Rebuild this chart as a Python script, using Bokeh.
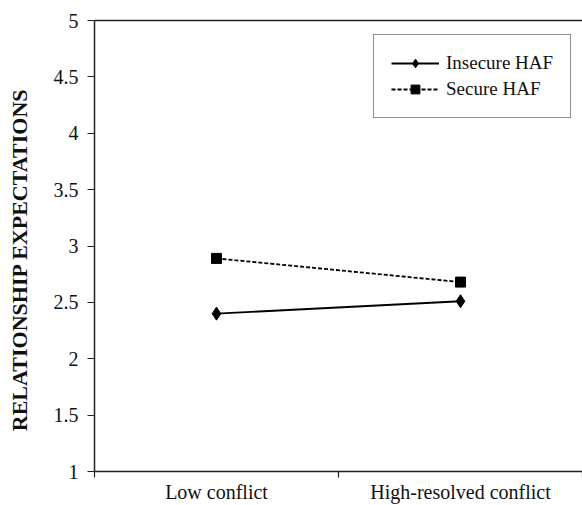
from bokeh.plotting import figure
from bokeh.models import (FactorRange, Range1d, LinearAxis, FixedTicker, Legend)
from bokeh.embed import file_html
from bokeh.resources import INLINE

categories = ["Low conflict", "High-resolved conflict"]
insecure_haf = [2.40, 2.51]
secure_haf = [2.89, 2.68]
y_ticks = [1, 1.5, 2, 2.5, 3, 3.5, 4, 4.5, 5]
y_tick_labels = ["1", "1.5", "2", "2.5", "3", "3.5", "4", "4.5", "5"]
y_title = "RELATIONSHIP EXPECTATIONS"

FONT = "Liberation Serif"

p = figure(x_range=FactorRange(*categories), y_range=Range1d(1, 5),
           width=582, height=505, output_backend="svg", toolbar_location=None,
           min_border_left=94, min_border_right=0, min_border_top=20,
           min_border_bottom=0, x_axis_type=None)
p.outline_line_color = None
p.xgrid.grid_line_color = None
p.ygrid.grid_line_color = None
p.background_fill_color = "white"
p.border_fill_color = "white"

# y axis
ya = p.yaxis[0]
ya.ticker = FixedTicker(ticks=y_ticks)
ya.major_label_overrides = {t: l for t, l in zip(y_ticks, y_tick_labels)}
ya.major_label_text_font = FONT
ya.major_label_text_font_size = "20px"
ya.major_label_text_color = "#111111"
ya.major_tick_out = 7
ya.major_tick_in = 0
ya.minor_tick_line_color = None
ya.major_label_standoff = 9
ya.axis_line_color = "#222222"
ya.axis_line_width = 1.5
ya.major_tick_line_color = "#222222"
ya.major_tick_line_width = 1.2
# axis title; trailing no-break spaces nudge the centred text toward the bottom
ya.axis_label = y_title + "\u00a0" * 5
ya.axis_label_text_font = FONT
ya.axis_label_text_font_style = "bold"
ya.axis_label_text_font_size = "22px"
ya.axis_label_text_color = "#111111"
ya.axis_label_standoff = 19

# x axis: category labels at category centres, tick marks at category boundaries
centres = [i + 0.5 for i in range(len(categories))]
bounds = [i for i in range(len(categories) + 1)]
xa = LinearAxis(ticker=FixedTicker(ticks=centres, minor_ticks=bounds),
                major_label_overrides={c: lab for c, lab in zip(centres, categories)},
                major_tick_line_color=None, major_tick_out=6, major_tick_in=0,
                minor_tick_out=6, minor_tick_in=0,
                minor_tick_line_color="#222222", minor_tick_line_width=1.2,
                axis_line_color="#222222", axis_line_width=1.5,
                major_label_text_font=FONT, major_label_text_font_size="20px",
                major_label_text_color="#111111", major_label_standoff=3)
p.add_layout(xa, "below")

# top border
top_axis = LinearAxis(ticker=FixedTicker(ticks=[]),
                      major_tick_line_color=None,
                      minor_tick_line_color=None, axis_line_color="#222222",
                      axis_line_width=1.5, major_label_standoff=0)
p.add_layout(top_axis, "above")

r1 = p.line(categories, insecure_haf, line_color="black", line_width=1.8)
m1 = p.scatter(categories, insecure_haf, marker="diamond", size=13,
               fill_color="black", line_color="black")
r2 = p.line(categories, secure_haf, line_color="black", line_width=1.8,
            line_dash="4 2")
m2 = p.scatter(categories, secure_haf, marker="square", size=10,
               fill_color="black", line_color="black")

legend = Legend(items=[("Insecure HAF", [r1, m1]), ("Secure HAF", [r2, m2])],
                location=(279, 353), margin=0, padding=17, spacing=4,
                glyph_width=48, glyph_height=22, label_height=22,
                label_standoff=7, label_text_font=FONT,
                label_text_font_size="19px", label_text_color="#111111",
                border_line_color="#222222", border_line_width=1.5,
                background_fill_alpha=1)
p.add_layout(legend, "center")

open("out.html", "w").write(file_html(p, INLINE))
